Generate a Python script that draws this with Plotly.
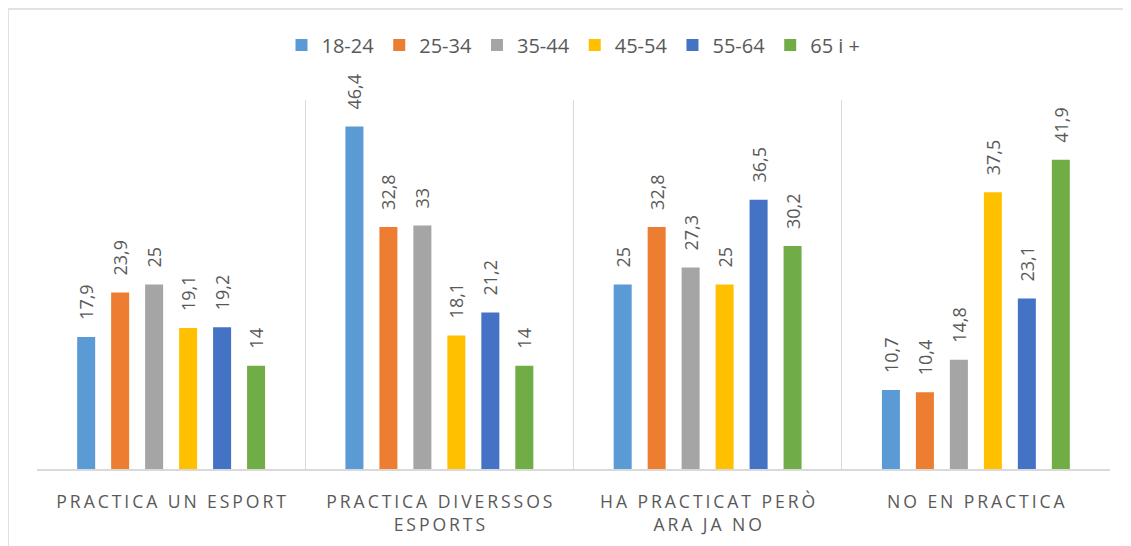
import plotly.graph_objects as go

categories = [
    "PRACTICA UN ESPORT",
    "PRACTICA DIVERSSOS<br>ESPORTS",
    "HA PRACTICAT PERÒ<br>ARA JA NO",
    "NO EN PRACTICA",
]
age_groups = ["18-24", "25-34", "35-44", "45-54", "55-64", "65 i +"]
val_18_24 = [17.9, 46.4, 25, 10.7]
val_25_34 = [23.9, 32.8, 32.8, 10.4]
val_35_44 = [25, 33, 27.3, 14.8]
val_45_54 = [19.1, 18.1, 25, 37.5]
val_55_64 = [19.2, 21.2, 36.5, 23.1]
val_65_plus = [14, 14, 30.2, 41.9]

series = [val_18_24, val_25_34, val_35_44, val_45_54, val_55_64, val_65_plus]
colors = ['#5B9BD5', '#ED7D31', '#A5A5A5', '#FFC000', '#4472C4', '#70AD47']

FONT = "Open Sans"
TXT = '#595959'


def spaced(label):
    # mimic the letter spacing of the original axis labels
    lines = label.split("<br>")
    return "<br>".join("\u2009".join(list(line)) for line in lines)


tick_text = [spaced(c) for c in categories]

fig = go.Figure()
for name, vals, color in zip(age_groups, series, colors):
    fig.add_trace(go.Bar(
        x=tick_text,
        y=vals,
        name=name,
        marker=dict(color=color, line=dict(width=0)),
        texttemplate='\u00a0\u00a0\u00a0%{y}',
        textposition='outside',
        textangle=-90,
        constraintext='none',
        cliponaxis=False,
        textfont=dict(family=FONT, size=18, color=TXT),
    ))

# outer chart border (page body margin puts the figure at 8px,8px)
fig.add_shape(
    type='rect', xref='paper', yref='paper',
    x0=-0.027, x1=1.05, y0=-0.3, y1=1.2466,
    line=dict(color='#d9d9d9', width=1.5),
    fillcolor='rgba(0,0,0,0)',
)

fig.update_layout(
    width=1123,
    height=538,
    margin=dict(l=29, r=21, t=92, b=77, autoexpand=False),
    paper_bgcolor='white',
    plot_bgcolor='white',
    separators=',.',
    barmode='group',
    bargap=0.24,
    bargroupgap=0.47,
    font=dict(family=FONT, color=TXT),
    legend=dict(
        orientation='h',
        x=0.5, xanchor='center',
        y=1.149, yanchor='middle',
        font=dict(family=FONT, size=20, color=TXT),
        itemwidth=30,
        traceorder='normal',
    ),
    xaxis=dict(
        type='category',
        tickson='boundaries',
        showgrid=True,
        gridcolor='#d9d9d9',
        gridwidth=1,
        showline=True,
        linecolor='#d9d9d9',
        linewidth=1.5,
        ticks='',
        automargin=False,
        ticklabelstandoff=16,
        tickfont=dict(family=FONT, size=17.6, color=TXT),
        fixedrange=True,
    ),
    yaxis=dict(
        range=[0, 50],
        showgrid=False,
        showticklabels=False,
        zeroline=False,
        visible=False,
        automargin=False,
        fixedrange=True,
    ),
)

fig.write_html("out.html")
